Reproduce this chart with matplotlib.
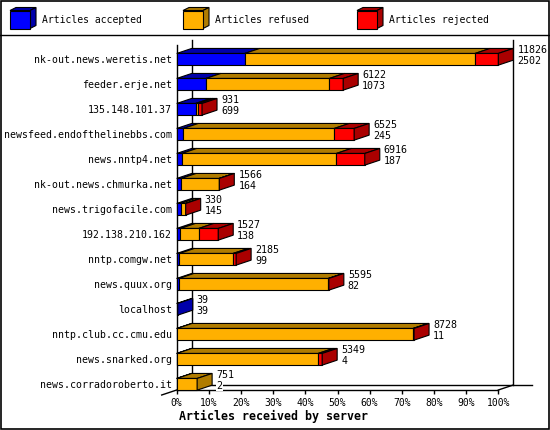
import numpy as np
import matplotlib.pyplot as plt
from matplotlib.patches import Polygon, Rectangle

plt.rcParams['font.family'] = ['DejaVu Sans Mono']

# data
servers = ['nk-out.news.weretis.net', 'feeder.erje.net', '135.148.101.37',
           'newsfeed.endofthelinebbs.com', 'news.nntp4.net', 'nk-out.news.chmurka.net',
           'news.trigofacile.com', '192.138.210.162', 'nntp.comgw.net', 'news.quux.org',
           'localhost', 'nntp.club.cc.cmu.edu', 'news.snarked.org', 'news.corradoroberto.it']
offered = [11826, 6122, 931, 6525, 6916, 1566, 330, 1527, 2185, 5595, 39, 8728, 5349, 751]
accepted = [2502, 1073, 699, 245, 187, 164, 145, 138, 99, 82, 39, 11, 4, 2]
refused = [8469, 4545, 85, 5550, 5685, 1397, 183, 673, 1976, 5494, 0, 8680, 5198, 749]
rejected = [855, 504, 147, 730, 1044, 5, 2, 716, 110, 19, 0, 37, 147, 0]

series = [accepted, refused, rejected]
names = ['Articles accepted', 'Articles refused', 'Articles rejected']
fronts = ['#0000ff', '#ffb000', '#ff0000']
shades = ['#0000aa', '#b07c00', '#aa0000']

W, H = 550, 430
fig = plt.figure(figsize=(W / 100, H / 100), dpi=100)
fig.patch.set_facecolor('white')

# overlay in pixel units for the frame and the legend
bg = fig.add_axes([0, 0, 1, 1])
bg.set_xlim(0, W)
bg.set_ylim(H, 0)
bg.axis('off')
bg.add_patch(Rectangle((0.5, 0.5), W - 1.5, H - 1.5, fill=False, ec='black', lw=1.2))
bg.plot([0, W], [35, 35], color='black', lw=1)

leg_x = [10, 183, 357]
for k in range(3):
    x0 = leg_x[k]
    bg.add_patch(Polygon([(x0, 10.5), (x0 + 20, 10.5), (x0 + 26, 7.5), (x0 + 6, 7.5)],
                         fc=shades[k], ec='black', lw=0.8))
    bg.add_patch(Polygon([(x0 + 20, 10.5), (x0 + 20, 28.5), (x0 + 26, 25.5), (x0 + 26, 7.5)],
                         fc=shades[k], ec='black', lw=0.8))
    bg.add_patch(Rectangle((x0, 10.5), 20, 18, fc=fronts[k], ec='black', lw=0.8))
    bg.text(x0 + 32, 20, names[k], ha='left', va='center', fontsize=7.0)

# main plot area: front face of the box
x_left, x_right = 176.7, 498.3
y_top, y_bot = 40, 390
row0, row_step = 59.3, 25.0
ax = fig.add_axes([x_left / W, 1 - y_bot / H, (x_right - x_left) / W, (y_bot - y_top) / H])
ax.patch.set_visible(False)
ax.set_xlim(0, 100)
ymin = (y_top - row0) / row_step
ymax = (y_bot - row0) / row_step
ax.set_ylim(ymax, ymin)

px_x = 100 / (x_right - x_left)
px_y = 1 / row_step
dx = 15 * px_x
dy = 5 * px_y
h = 11.7 * px_y

# box lines
lk = dict(color='black', lw=1, clip_on=False, zorder=1)
ax.plot([0, 0], [ymax, ymin + dy], **lk)
ax.plot([dx, dx], [ymax - dy, ymin], **lk)
ax.plot([100 + dx, 100 + dx], [ymax - dy, ymin], **lk)
ax.plot([dx, 100 + dx + 19 * px_x], [ymax - dy, ymax - dy], **lk)
ax.plot([-dx, dx], [ymax + dy, ymax - dy], **lk)
ax.plot([100, 100 + dx], [ymax, ymax - dy], **lk)

total_max = max(offered)
for i in range(len(servers)):
    start = 0.0
    segs = []
    for k in range(3):
        w = series[k][i] / total_max * 100
        if series[k][i] > 0:
            segs.append((k, start, start + w))
        start += w
    yt = i - h / 2
    yb = i + h / 2
    for n, (k, a, b) in enumerate(segs):
        ax.add_patch(Polygon([(a, yt), (b, yt), (b + dx, yt - dy), (a + dx, yt - dy)],
                             fc=shades[k], ec='black', lw=0.8, zorder=3 + n * 0.01,
                             clip_on=False))
    for n, (k, a, b) in enumerate(segs):
        ax.add_patch(Rectangle((a, yt), b - a, h, fc=fronts[k], ec='black', lw=0.8,
                               zorder=4 + n * 0.01, clip_on=False))
    k, a, b = segs[-1]
    ax.add_patch(Polygon([(b, yt), (b, yb), (b + dx, yb - dy), (b + dx, yt - dy)],
                         fc=shades[k], ec='black', lw=0.8, zorder=5, clip_on=False))

    end = start + dx
    ax.annotate(str(offered[i]), xy=(end, i), xytext=(4, 9), textcoords='offset pixels',
                ha='left', va='center', fontsize=7.2, annotation_clip=False, zorder=6,
                bbox=dict(fc='white', ec='none', pad=0.3))
    ax.annotate(str(accepted[i]), xy=(end, i), xytext=(4, -1.5), textcoords='offset pixels',
                ha='left', va='center', fontsize=7.2, annotation_clip=False, zorder=6,
                bbox=dict(fc='white', ec='none', pad=0.3))

for s in ['top', 'right', 'left']:
    ax.spines[s].set_visible(False)
ax.spines['bottom'].set_linewidth(1)
ax.set_xticks(range(0, 101, 10))
ax.set_xticklabels([f'{t}%' for t in range(0, 101, 10)], fontsize=7.0)
ax.tick_params(axis='x', direction='out', length=3, width=1, pad=3)
ax.set_yticks(range(len(servers)))
ax.set_yticklabels(servers, fontsize=7.1)
ax.tick_params(axis='y', length=0, pad=3.6)

fig.text(179 / W, 1 - 416 / H, 'Articles received by server', ha='left', va='center',
         fontsize=8.4, fontweight='bold')

fig.savefig('out.png', dpi=100)
